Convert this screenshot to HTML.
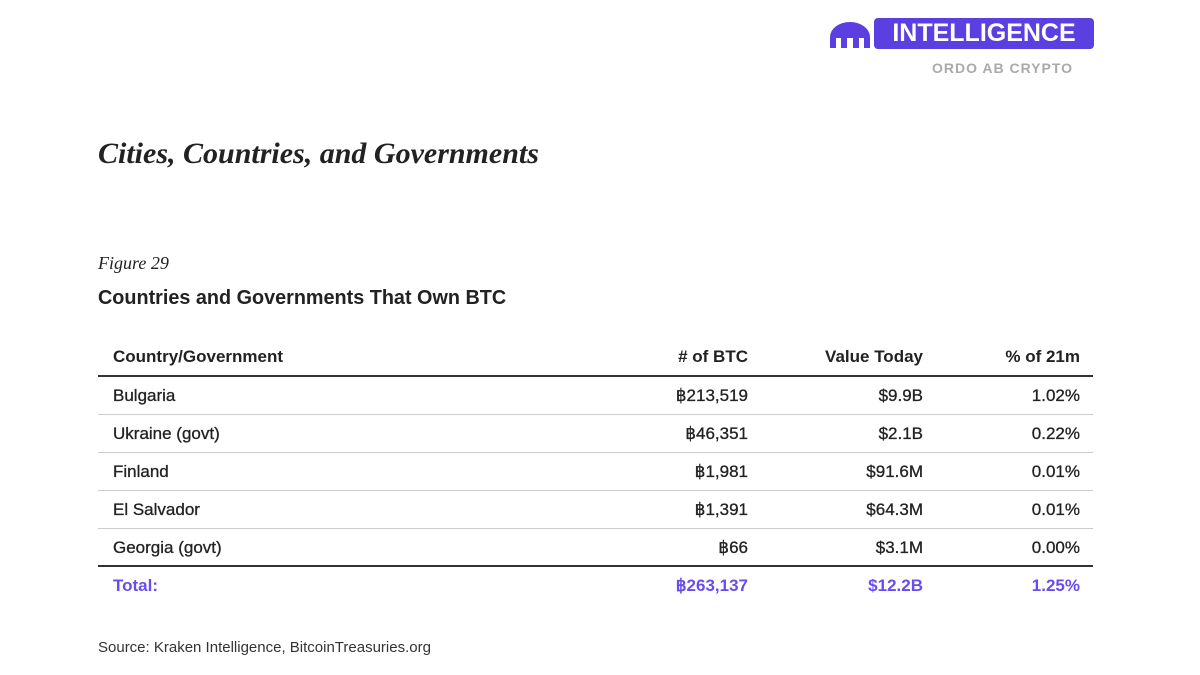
<!DOCTYPE html>
<html><head><meta charset="utf-8"><style>
body{margin:0;width:1200px;height:675px;background:#fff;position:relative;overflow:hidden;font-family:"Liberation Sans",sans-serif;color:#222}
.a{position:absolute;white-space:nowrap}
.r{text-align:right}
.cell{font-size:17px;line-height:20px;-webkit-text-stroke:0.3px #222}
.hdr{font-weight:bold;font-size:17px}
.line{position:absolute;left:98px;width:995px;background:#ccc;height:1px}
.thick{background:#333;height:2px}
.tot{color:#6a4cf0;font-weight:bold;-webkit-text-stroke:0}
</style></head><body>
<div class="a" style="left:828px;top:18px;width:266px;height:32px">
 <svg width="44" height="32" style="position:absolute;left:0;top:2px"><path d="M2 28 V17 A20 15 0 0 1 42 17 V28 H36 V18 H31 V28 H25 V18 H19 V28 H13 V18 H8 V28 Z" fill="#5b3fe0"/></svg>
 <div class="a" style="left:46px;top:0;width:220px;height:31px;background:#5b3fe0;border-radius:4px;color:#fff;font-weight:bold;font-size:25px;line-height:31px;text-align:center">INTELLIGENCE</div>
</div>
<div class="a" style="left:932px;top:60px;font-size:14px;font-weight:bold;color:#aaa;letter-spacing:1px">ORDO AB CRYPTO</div>
<div class="a" style="left:98px;top:137px;font-family:'Liberation Serif',serif;font-style:italic;font-weight:bold;font-size:30px;color:#222">Cities, Countries, and Governments</div>
<div class="a" style="left:98px;top:253px;font-family:'Liberation Serif',serif;font-style:italic;font-size:18px">Figure 29</div>
<div class="a" style="left:98px;top:287px;font-weight:bold;font-size:20px;transform:scaleX(0.99);transform-origin:left">Countries and Governments That Own BTC</div>

<div class="a hdr" style="left:113px;top:347px">Country/Government</div>
<div class="a hdr r" style="right:452px;top:347px">#&nbsp;of BTC</div>
<div class="a hdr r" style="right:277px;top:347px">Value Today</div>
<div class="a hdr r" style="right:120px;top:347px">% of 21m</div>
<div class="line thick" style="top:375px"></div>
<div id="rows"></div>
<div class="line" style="top:414px"></div>
<div class="line" style="top:452px"></div>
<div class="line" style="top:490px"></div>
<div class="line" style="top:528px"></div>
<div class="line thick" style="top:565px"></div>

<div class="a cell tot" style="left:113px;top:576px">Total:</div>
<div class="a cell tot r" style="right:452px;top:576px">฿263,137</div>
<div class="a cell tot r" style="right:277px;top:576px">$12.2B</div>
<div class="a cell tot r" style="right:120px;top:576px">1.25%</div>

<div class="a" style="left:98px;top:639px;font-size:15px;color:#333">Source: Kraken Intelligence, BitcoinTreasuries.org</div>
<script>
const countries=["Bulgaria","Ukraine (govt)","Finland","El Salvador","Georgia (govt)"];
const btc=["฿213,519","฿46,351","฿1,981","฿1,391","฿66"];
const values=["$9.9B","$2.1B","$91.6M","$64.3M","$3.1M"];
const pcts=["1.02%","0.22%","0.01%","0.01%","0.00%"];
const host=document.getElementById('rows');
countries.forEach((c,i)=>{
 const top=386+i*38;
 const cols=[[c,'left:113px','country'],[btc[i],'right:452px','btc'],[values[i],'right:277px','value'],[pcts[i],'right:120px','pct']];
 cols.forEach(([t,pos,k])=>{
  const d=document.createElement('div');
  d.className='a cell'+(k==='country'?'':' r');
  d.style.cssText=pos+';top:'+top+'px';
  d.textContent=t;
  
  
  host.appendChild(d);
 });
});
</script>
</body></html>
